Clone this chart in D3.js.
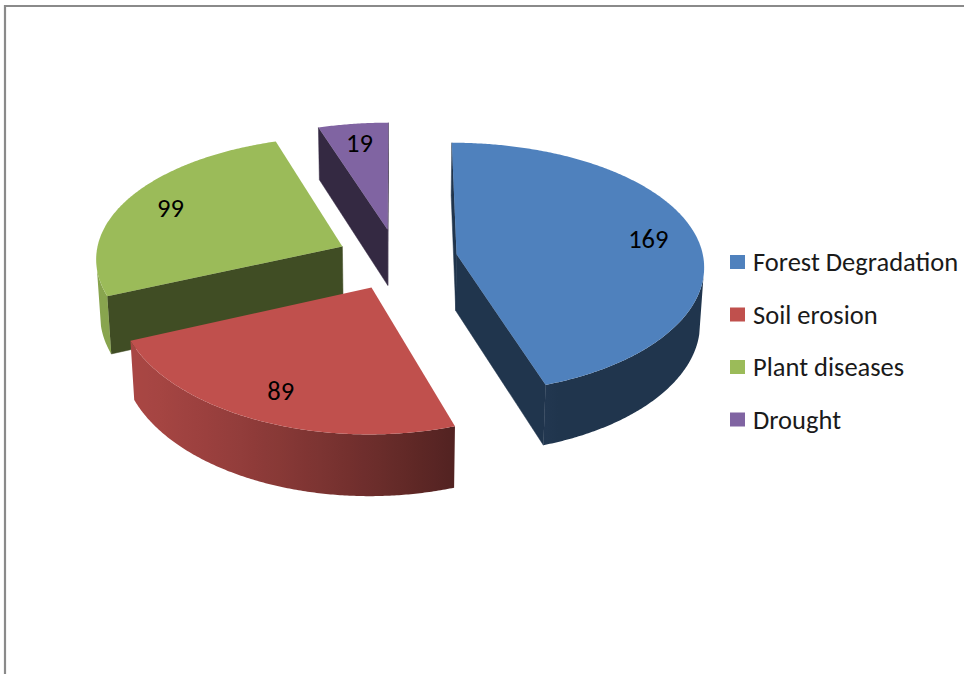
<!DOCTYPE html>
<html>
<head>
<meta charset="utf-8">
<script src="https://cdn.jsdelivr.net/npm/d3@7"></script>
<style>
  html, body { margin: 0; padding: 0; background: #ffffff; }
  svg { display: block; }
</style>
</head>
<body>
<svg id="chart" width="964" height="674"></svg>
<script>
// ---- data ----
const categories = ["Forest Degradation", "Soil erosion", "Plant diseases", "Drought"];
const values = [169, 89, 99, 19];
const colors = ["#4f81bd", "#c0504d", "#9bbb59", "#8064a2"];

const svg = d3.select("#chart");
const defs = svg.append("defs");
const FONT = "Carlito, Calibri, Lato, 'Open Sans', sans-serif";

// chart area frame (top and left edges)
svg.append("path")
  .attr("d", "M5,674V6H964")
  .attr("fill", "none")
  .attr("stroke", "#8a8a8a")
  .attr("stroke-width", 2.2);

// ---- 3D view of a tilted pie seen in perspective ----
const view = {
  cx: 397, cy: 259,       // screen position of the pie axis
  scale: 247,             // pixels per unit radius at the pie centre
  sinT: 0.504,            // tilt of the pie plane
  distX: 10, distY: 8,    // perspective distances (in radii)
  depth: 0.27,            // thickness of the pie (in radii)
  explode: 0.245          // slice explosion (in radii)
};
view.cosT = Math.sqrt(1 - view.sinT * view.sinT);
const cam = [0, view.distY * view.sinT, -view.distY * view.cosT];

function project(x, y, z) {
  const yv = y * view.cosT + z * view.sinT;
  const d = z * view.cosT - y * view.sinT;
  const sx = view.scale * view.distX / (view.distX + d);
  const sy = view.scale * view.distY / (view.distY + d);
  return [view.cx + x * sx, view.cy - yv * sy];
}

function facing(n, p) {
  return n[0] * (cam[0] - p[0]) + n[1] * (cam[1] - p[1]) + n[2] * (cam[2] - p[2]) > 0;
}

function shade(color, f) {
  const c = d3.rgb(color);
  return d3.rgb(c.r * f, c.g * f, c.b * f).formatHex();
}

// light on the curved rim comes from the front-left
const lightAngle = 250 * Math.PI / 180;
function rimShade(a) {
  return 0.41 + 0.47 * Math.max(0, Math.cos(a - lightAngle));
}
const cutShade = 0.41;

const line = d3.line();

const arcs = d3.pie().sort(null).value(d => d)(values).map((d, i) => {
  const mid = (d.startAngle + d.endAngle) / 2;
  return {
    ...d, i, mid,
    ox: view.explode * Math.sin(mid),
    oz: view.explode * Math.cos(mid)
  };
});

// far slices first
const order = arcs.slice().sort((a, b) => b.oz - a.oz);
const gPie = svg.append("g");
const h = view.depth;

order.forEach(s => {
  const g = gPie.append("g");
  const base = colors[s.i];
  const a0 = s.startAngle, a1 = s.endAngle;
  const rim = (a, y) => [s.ox + Math.sin(a), y, s.oz + Math.cos(a)];
  const ctr = y => [s.ox, y, s.oz];
  const P = p => project(p[0], p[1], p[2]);

  // cut faces
  const cuts = [
    { a: a0, n: [-Math.cos(a0), 0, Math.sin(a0)] },
    { a: a1, n: [Math.cos(a1), 0, -Math.sin(a1)] }
  ];
  cuts.forEach(c => {
    if (!facing(c.n, ctr(-h / 2))) return;
    const pts = [ctr(0), rim(c.a, 0), rim(c.a, -h), ctr(-h)].map(P);
    g.append("path")
      .attr("d", line(pts) + "Z")
      .attr("fill", shade(base, cutShade))
      .attr("stroke", shade(base, cutShade))
      .attr("stroke-width", 0.5);
  });

  // curved outer side
  const N = Math.max(2, Math.ceil((a1 - a0) / (Math.PI / 360)));
  const samples = d3.range(N + 1).map(k => a0 + (a1 - a0) * k / N);
  const runs = [];
  let cur = [];
  samples.forEach(a => {
    const vis = facing([Math.sin(a), 0, Math.cos(a)], rim(a, -h / 2));
    if (vis) cur.push(a);
    else { if (cur.length > 1) runs.push(cur); cur = []; }
  });
  if (cur.length > 1) runs.push(cur);

  runs.forEach((run, k) => {
    const top = run.map(a => P(rim(a, 0)));
    const bot = run.map(a => P(rim(a, -h))).reverse();
    const xs = top.map(p => p[0]);
    const x1 = d3.min(xs), x2 = d3.max(xs);
    const id = `rim-${s.i}-${k}`;
    const grad = defs.append("linearGradient")
      .attr("id", id)
      .attr("gradientUnits", "userSpaceOnUse")
      .attr("x1", x1).attr("x2", x2).attr("y1", 0).attr("y2", 0);
    const stops = run.map((a, j) => ({ off: x2 > x1 ? (xs[j] - x1) / (x2 - x1) : 0, col: shade(base, rimShade(a)) }))
      .sort((p, q) => p.off - q.off);
    stops.filter((st, j) => j % 6 === 0 || j === stops.length - 1).forEach(st => {
      grad.append("stop").attr("offset", st.off).attr("stop-color", st.col);
    });
    g.append("path")
      .attr("d", line(top.concat(bot)) + "Z")
      .attr("fill", `url(#${id})`);
  });

  // top face
  const topPts = [P(ctr(0))].concat(samples.map(a => P(rim(a, 0))));
  g.append("path")
    .attr("d", line(topPts) + "Z")
    .attr("fill", base);
});

// value labels on the top faces
const labelR = 0.8;
svg.append("g")
  .selectAll("text")
  .data(arcs)
  .join("text")
  .attr("x", d => project(d.ox + labelR * Math.sin(d.mid), 0, d.oz + labelR * Math.cos(d.mid))[0])
  .attr("y", d => project(d.ox + labelR * Math.sin(d.mid), 0, d.oz + labelR * Math.cos(d.mid))[1])
  .attr("text-anchor", "middle")
  .attr("dominant-baseline", "central")
  .attr("font-family", FONT)
  .attr("font-size", 26.5)
  .attr("fill", "#000")
  .text(d => d.data);

// legend
const legend = svg.append("g").attr("transform", "translate(730,262)");
const rowGap = 52.5;
categories.forEach((name, i) => {
  const row = legend.append("g").attr("transform", `translate(0,${i * rowGap})`);
  row.append("rect")
    .attr("x", 0).attr("y", -7)
    .attr("width", 15).attr("height", 14)
    .attr("fill", colors[i]);
  row.append("text")
    .attr("x", 23).attr("y", 0)
    .attr("dominant-baseline", "central")
    .attr("font-family", FONT)
    .attr("font-size", 26.5)
    .attr("fill", "#1a1a1a")
    .text(name);
});
</script>
</body>
</html>
